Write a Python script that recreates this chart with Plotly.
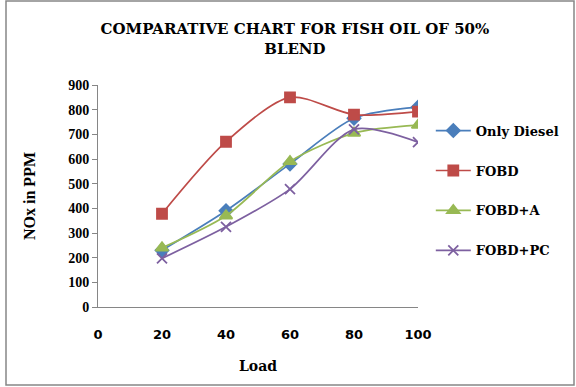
import plotly.graph_objects as go

load = [20, 40, 60, 80, 100]
only_diesel = [230, 390, 580, 765, 810]
fobd = [378, 670, 850, 780, 792]
fobd_a = [240, 370, 590, 705, 737]
fobd_pc = [197, 325, 478, 720, 668]

series = [
    ("Only Diesel", only_diesel, "#4A7EBB", "diamond", 10),
    ("FOBD", fobd, "#BE4B48", "square", 10),
    ("FOBD+A", fobd_a, "#98B954", "triangle-up", 11),
    ("FOBD+PC", fobd_pc, "#7D60A0", "x-thin", 10),
]

fig = go.Figure()
for name, ys, col, sym, sz in series:
    fig.add_trace(go.Scatter(
        x=load, y=ys, name="<b>" + name + "</b>", legendgroup=name,
        mode="lines+markers",
        line=dict(color=col, width=1.7, shape="spline", smoothing=0.8),
        marker=dict(symbol=sym, size=sz, color=col, line=dict(color=col, width=1.8)),
    ))

serif = "DejaVu Serif"
fig.update_layout(
    width=576, height=387,
    margin=dict(l=98, r=158, t=85, b=80),
    paper_bgcolor="white", plot_bgcolor="white",
    title=dict(text="<b>COMPARATIVE CHART FOR FISH OIL OF 50%<br>BLEND</b>",
               x=0.512, xanchor="center", y=0.912, yanchor="top",
               font=dict(family=serif, size=15, color="black")),
    xaxis=dict(range=[0, 100], tickvals=[0, 20, 40, 60, 80, 100], showgrid=False,
               showline=True, linecolor="#868686", linewidth=1, zeroline=False,
               ticks="", tickfont=dict(family="DejaVu Sans", size=13, color="black", weight="bold"),
               ticklabelstandoff=15,
               title=dict(text="<b>Load</b>", font=dict(family=serif, size=14, color="black"), standoff=20)),
    yaxis=dict(range=[0, 900], dtick=100, showgrid=False, showline=True, linecolor="#868686",
               linewidth=1, zeroline=False, ticks="outside", ticklen=5, tickcolor="#868686",
               tickfont=dict(family="Liberation Serif", size=14, color="black", weight="bold"),
               title=dict(text="<b>NOx in PPM</b>", font=dict(family="Liberation Serif", size=16, color="black"), standoff=28)),
    legend=dict(x=1.04, y=0.862, xanchor="left", yanchor="top",
                font=dict(family=serif, size=13, color="black"),
                traceorder="grouped", tracegroupgap=20, itemwidth=35,
                bgcolor="rgba(0,0,0,0)"),
    showlegend=True,
)

fig.add_shape(type="rect", xref="paper", yref="paper",
              x0=(6 - 98) / 320, x1=(574 - 98) / 320,
              y0=(307 - 385) / 222, y1=(307 - 1) / 222,
              line=dict(color="#868686", width=1.5), layer="below")

fig.write_html("out.html")
